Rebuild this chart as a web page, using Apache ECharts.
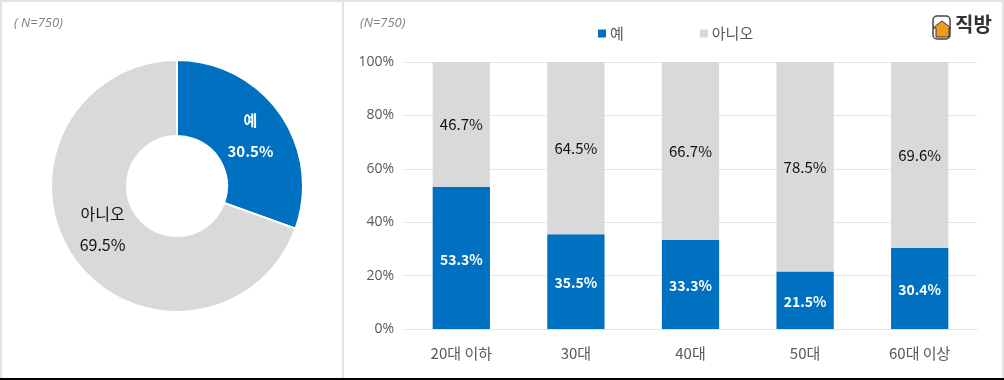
<!DOCTYPE html>
<html><head><meta charset="utf-8">
<style>html,body{margin:0;padding:0;background:#fff}#c{width:1004px;height:380px}</style>
<script src="https://cdn.jsdelivr.net/npm/echarts@6/dist/echarts.min.js"></script>
</head><body><div id="c"></div>
<script>
const pieNames = ['예', '아니오'];
const pieValues = [30.5, 69.5];
const categories = ['20대 이하', '30대', '40대', '50대', '60대 이상'];
const yesValues = [53.3, 35.5, 33.3, 21.5, 30.4];
const noValues = [46.7, 64.5, 66.7, 78.5, 69.6];
const noteLeft = '( N=750)';
const noteRight = '(N=750)';
const logoText = '직방';
const BLUE = '#0070c0', GRAY = '#d9d9d9';
const FONT = '"Noto Sans CJK KR","Noto Sans",sans-serif';
const chart = echarts.init(document.getElementById('c'), null, {renderer:'canvas'});
chart.setOption({
  animation:false,
  backgroundColor:'#fff',
  textStyle:{fontFamily:FONT},
  legend:{
    top:21,left:593,itemWidth:8,itemHeight:8,itemGap:76,icon:'rect',
    data:pieNames,
    textStyle:{fontSize:15,color:'#595959',fontFamily:FONT,padding:[2,0,0,-1]}
  },
  grid:{left:404,right:27,top:62,bottom:51,containLabel:false},
  xAxis:{type:'category',data:categories,
    axisLine:{lineStyle:{color:'#e3e3e3',width:1}},axisTick:{show:false},
    axisLabel:{fontSize:15,color:'#595959',margin:17,fontFamily:FONT}},
  yAxis:{type:'value',min:0,max:100,interval:20,
    axisLine:{show:false},axisTick:{show:false},
    splitLine:{lineStyle:{color:'#e6e6e6',width:1}},
    axisLabel:{fontSize:14,color:'#595959',margin:10,formatter:'{value}%',fontFamily:'"Open Sans",sans-serif'}},
  series:[
    {type:'pie',name:'share',center:[177,186],radius:[50,126],startAngle:90,clockwise:true,
      itemStyle:{borderColor:'#fff',borderWidth:2},
      legendHoverLink:false,emphasis:{disabled:true},
      labelLine:{show:false},
      label:{position:'inside',lineHeight:31,fontSize:15,fontFamily:FONT,
        formatter:p=>p.name+'\n'+p.value.toFixed(1)+'%'},
      data:[
        {name:pieNames[0],value:pieValues[0],itemStyle:{color:BLUE},
          label:{color:'#fff',fontWeight:'bold',offset:[-1,2]}},
        {name:pieNames[1],value:pieValues[1],itemStyle:{color:GRAY},
          label:{color:'#111',fontSize:16,offset:[0,-9]}}
      ]},
    {type:'bar',name:pieNames[0],stack:'t',barWidth:'50%',data:yesValues,
      itemStyle:{color:BLUE},
      label:{show:true,position:'inside',offset:[0,1.5],color:'#fff',fontWeight:'bold',fontSize:14,fontFamily:FONT,
        formatter:p=>p.value.toFixed(1)+'%'}},
    {type:'bar',name:pieNames[1],stack:'t',barWidth:'50%',data:noValues,
      itemStyle:{color:GRAY},
      label:{show:true,position:'inside',offset:[0,0],color:'#111',fontSize:15,fontFamily:FONT,
        formatter:p=>p.value.toFixed(1)+'%'}}
  ],
  color:[BLUE,GRAY],
  graphic:[
    {type:'rect',silent:true,shape:{x:0,y:0,width:1004,height:2},style:{fill:'#e2e2e2'}},
    {type:'rect',silent:true,shape:{x:0,y:0,width:2,height:378},style:{fill:'#e2e2e2'}},
    {type:'rect',silent:true,shape:{x:342,y:0,width:2,height:378},style:{fill:'#e2e2e2'}},
    {type:'rect',silent:true,shape:{x:1002,y:0,width:2,height:378},style:{fill:'#e2e2e2'}},
    {type:'rect',silent:true,shape:{x:0,y:378,width:1004,height:2},style:{fill:'#000'}},
    {type:'text',silent:true,left:14,top:17,style:{text:noteLeft,fontSize:13,fontStyle:'italic',fill:'#7f7f7f',fontFamily:'"Open Sans",sans-serif'}},
    {type:'text',silent:true,left:360,top:17,style:{text:noteRight,fontSize:13,fontStyle:'italic',fill:'#7f7f7f',fontFamily:'"Open Sans",sans-serif'}},
    {type:'rect',silent:true,shape:{x:933,y:16,width:17,height:23,r:4},style:{fill:'#fff',stroke:'#444',lineWidth:1.5}},
    {type:'polygon',silent:true,shape:{points:[[933,28],[942,21],[951,28],[949,28],[949,37],[936,37],[936,28]]},style:{fill:'#f39a1e',stroke:'#333',lineWidth:1}},
    {type:'text',silent:true,left:955,top:14,style:{text:logoText,fontSize:20,fontWeight:'bold',fill:'#333',fontFamily:FONT}}
  ]
});
</script></body></html>
